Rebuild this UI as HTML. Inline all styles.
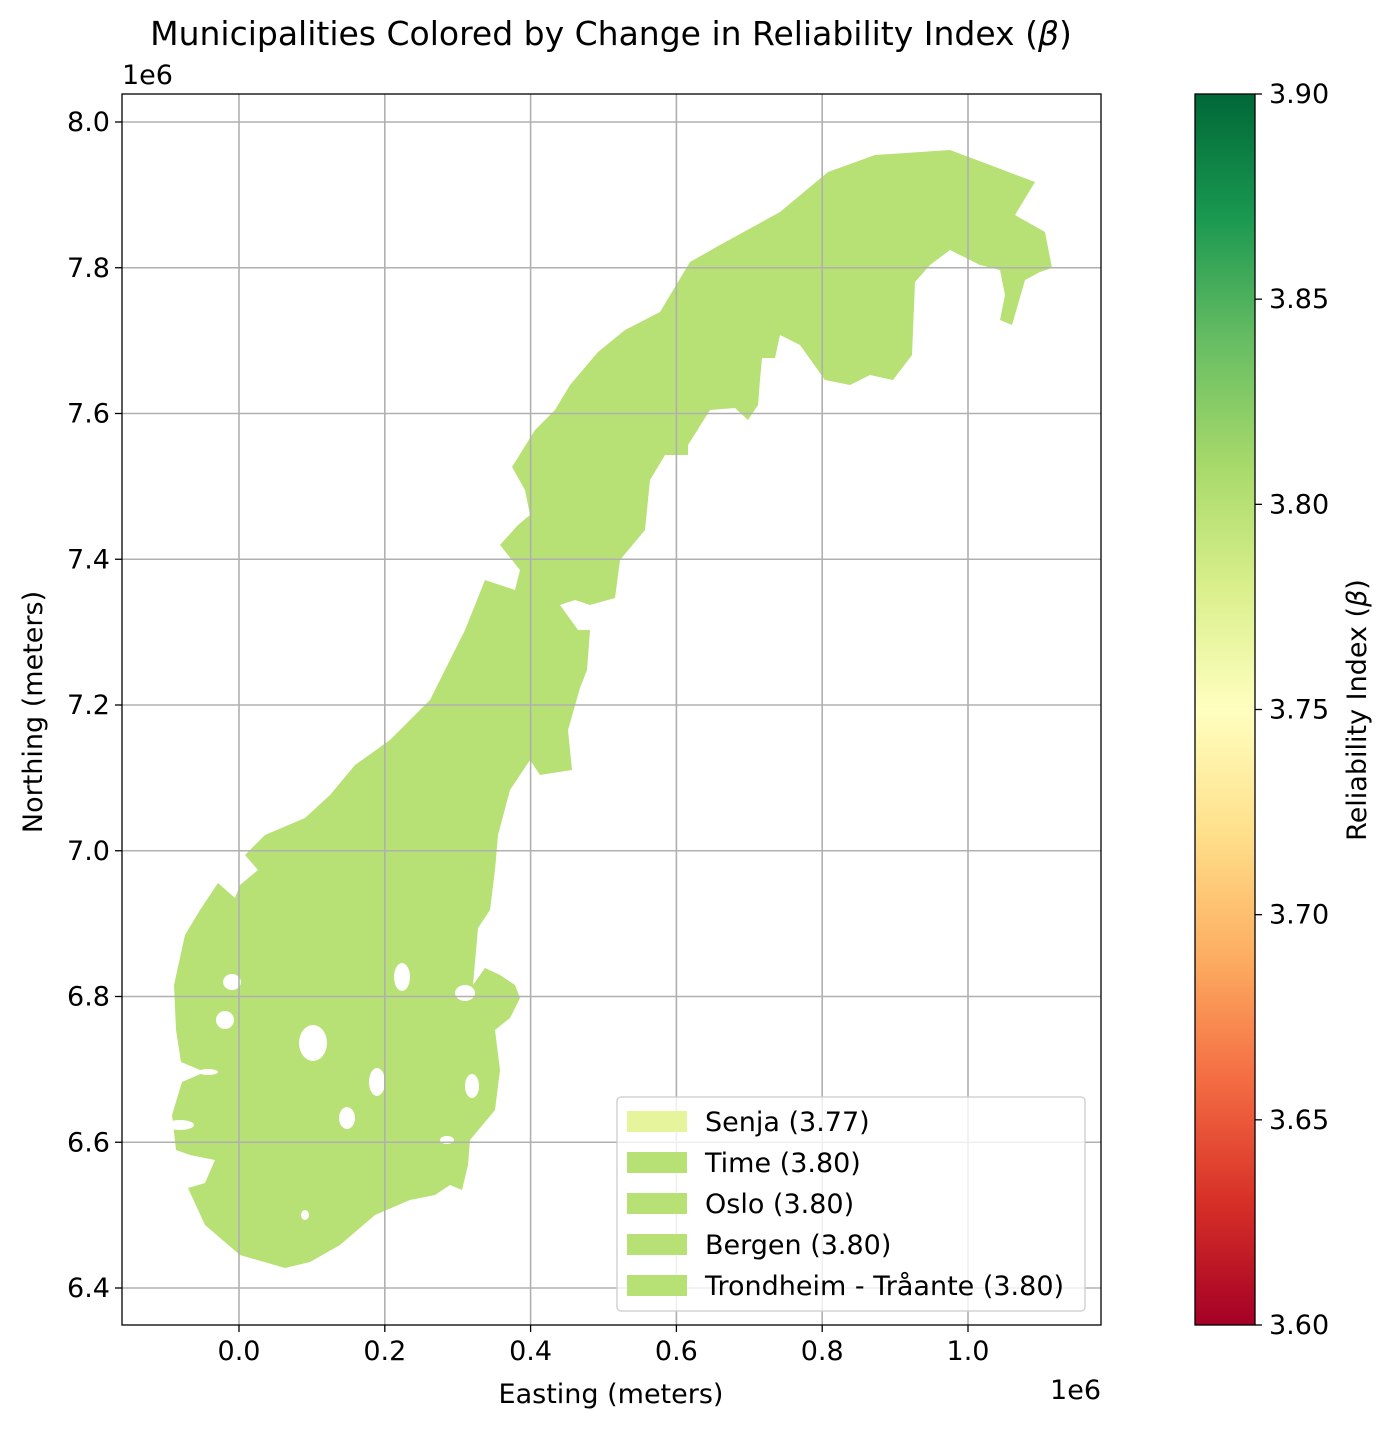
<!DOCTYPE html>
<html><head><meta charset="utf-8">
<style>
body{margin:0;background:#fff;font-family:"Liberation Sans","DejaVu Sans",sans-serif;}
svg text{font-family:"DejaVu Sans","Liberation Sans",sans-serif;fill:#000;}
</style></head>
<body>
<svg id="chart" width="1399" height="1431" viewBox="0 0 1399 1431" xmlns="http://www.w3.org/2000/svg">
<rect width="1399" height="1431" fill="#fff"/>
<text x="611" y="45" style="font-size:33px" text-anchor="middle">Municipalities Colored by Change in Reliability Index (<tspan font-style="italic">β</tspan>)</text>
<g id="map"></g>
<g id="grid"></g>
<rect x="122" y="94" width="979" height="1231" fill="none" stroke="#000" stroke-width="1.3"/>
<g id="xticks"></g>
<g id="yticks"></g>
<text x="611" y="1403" style="font-size:27px" text-anchor="middle">Easting (meters)</text>
<text x="1101" y="1399" style="font-size:27px" text-anchor="end">1e6</text>
<text x="122" y="84" style="font-size:27px">1e6</text>
<text transform="translate(42,712) rotate(-90)" style="font-size:27px" text-anchor="middle">Northing (meters)</text>
<g id="legend"></g>
<defs><linearGradient id="rdylgn" x1="0" y1="1" x2="0" y2="0">
<stop offset="0" stop-color="#a50026"/><stop offset="0.1" stop-color="#d73027"/><stop offset="0.2" stop-color="#f46d43"/><stop offset="0.3" stop-color="#fdae61"/><stop offset="0.4" stop-color="#fee08b"/><stop offset="0.5" stop-color="#ffffbf"/><stop offset="0.6" stop-color="#d9ef8b"/><stop offset="0.7" stop-color="#a6d96a"/><stop offset="0.8" stop-color="#66bd63"/><stop offset="0.9" stop-color="#1a9850"/><stop offset="1" stop-color="#006837"/>
</linearGradient></defs>
<rect x="1195" y="94" width="60" height="1231" fill="url(#rdylgn)" stroke="#000" stroke-width="1.3"/>
<g id="cbticks"></g>
<text transform="translate(1366,710) rotate(-90)" style="font-size:27px" text-anchor="middle">Reliability Index (<tspan font-style="italic">β</tspan>)</text>
</svg>
<script>
const xTicks=[0.0,0.2,0.4,0.6,0.8,1.0];
const xTickLabels=["0.0","0.2","0.4","0.6","0.8","1.0"];
const yTicks=[6.4,6.6,6.8,7.0,7.2,7.4,7.6,7.8,8.0];
const yTickLabels=["6.4","6.6","6.8","7.0","7.2","7.4","7.6","7.8","8.0"];
const cbTicks=[3.60,3.65,3.70,3.75,3.80,3.85,3.90];
const legendNames=["Senja","Time","Oslo","Bergen","Trondheim - Tråante"];
const legendValues=[3.77,3.80,3.80,3.80,3.80];
const mapValue=3.80;

const NS="http://www.w3.org/2000/svg";
const X=v=>239+v*729;
const Y=v=>122+(8.0-v)*728.75;
const CB=v=>1325-(v-3.60)/(0.30)*1231;
function colorOf(v){
  const stops=["#a50026","#d73027","#f46d43","#fdae61","#fee08b","#ffffbf","#d9ef8b","#a6d96a","#66bd63","#1a9850","#006837"];
  let t=(v-3.60)/0.30*10; t=Math.max(0,Math.min(10,t));
  const i=Math.min(9,Math.floor(t)),f=t-i;
  const a=stops[i],b=stops[i+1];
  const c=k=>Math.round(parseInt(a.substr(k,2),16)*(1-f)+parseInt(b.substr(k,2),16)*f);
  return `rgb(${c(1)},${c(3)},${c(5)})`;
}
function mk(tag,attrs,parent){const e=document.createElementNS(NS,tag);for(const k in attrs)e.setAttribute(k,attrs[k]);parent.appendChild(e);return e;}

const outline=[[285,1268],[240,1255],[205,1225],[188,1188],[205,1183],[215,1160],[190,1155],[176,1150],[172,1115],[182,1082],[205,1072],[181,1062],[176,1030],[174,985],[185,935],[200,910],[218,883],[235,898],[240,885],[258,870],[245,855],[265,835],[305,818],[330,795],[355,765],[390,740],[430,700],[465,630],[485,580],[515,590],[520,570],[500,545],[518,525],[530,515],[525,490],[512,467],[535,430],[555,410],[570,385],[598,352],[625,330],[660,312],[690,262],[720,245],[780,212],[828,172],[875,155],[950,150],[990,165],[1035,182],[1015,215],[1045,232],[1052,268],[1040,272],[1025,280],[1012,325],[1000,320],[1005,295],[1000,270],[980,265],[960,255],[950,250],[930,265],[915,282],[912,355],[893,380],[870,375],[850,385],[825,380],[800,345],[780,335],[775,358],[762,358],[760,380],[758,405],[748,420],[735,408],[710,410],[688,445],[688,455],[665,455],[650,480],[645,530],[620,560],[615,598],[590,605],[575,600],[560,605],[578,630],[590,630],[587,670],[580,688],[568,730],[572,770],[540,775],[530,760],[510,790],[498,835],[495,870],[490,910],[478,928],[473,985],[485,968],[500,975],[515,985],[520,998],[510,1018],[495,1030],[500,1070],[495,1110],[470,1140],[468,1165],[462,1190],[450,1185],[435,1195],[410,1200],[375,1215],[340,1245],[310,1262]];
const map=document.getElementById('map');
const poly=mk('polygon',{points:outline.map(p=>p.join(',')).join(' '),fill:colorOf(mapValue)},map);


const holes=[[313,1043,14,18],[347,1118,8,11],[377,1082,8,14],[232,982,9,8],[225,1020,9,9],[402,977,8,14],[465,993,10,8],[305,1215,4,5],[472,1086,7,12],[180,1125,14,5],[208,1072,10,3],[447,1140,7,4]];
holes.forEach(h=>{const e=mk('ellipse',{cx:h[0],cy:h[1],rx:h[2],ry:h[3],fill:'#fff'},map);

});

const grid=document.getElementById('grid'),xg=document.getElementById('xticks'),yg=document.getElementById('yticks');
xTicks.forEach((v,i)=>{
  const l=mk('line',{x1:X(v),x2:X(v),y1:94,y2:1325,stroke:'#b0b0b0','stroke-width':1.6},grid);
  
  
  mk('line',{x1:X(v),x2:X(v),y1:1325,y2:1332,stroke:'#000','stroke-width':1.3},xg);
  const t=mk('text',{x:X(v),y:1360,style:'font-size:27px','text-anchor':'middle'},xg);t.textContent=xTickLabels[i];
  
  
});
yTicks.forEach((v,i)=>{
  const l=mk('line',{x1:122,x2:1101,y1:Y(v),y2:Y(v),stroke:'#b0b0b0','stroke-width':1.6},grid);
  
  
  mk('line',{x1:115,x2:122,y1:Y(v),y2:Y(v),stroke:'#000','stroke-width':1.3},yg);
  const t=mk('text',{x:110,y:Y(v)+9,style:'font-size:27px','text-anchor':'end'},yg);t.textContent=yTickLabels[i];
  
  
});
const cg=document.getElementById('cbticks');
cbTicks.forEach(v=>{
  mk('line',{x1:1255,x2:1262,y1:CB(v),y2:CB(v),stroke:'#000','stroke-width':1.3},cg);
  const t=mk('text',{x:1269,y:CB(v)+9,style:'font-size:27px'},cg);t.textContent=v.toFixed(2);
  
  
});
const lg=document.getElementById('legend');
const box=mk('rect',{x:617,y:1097,width:468,height:214,rx:4,fill:'#fff','fill-opacity':0.8,stroke:'#ccc','stroke-width':1.3},lg);


legendNames.forEach((n,i)=>{
  const y=1121+i*41;
  const r=mk('rect',{x:627,y:y-10,width:60,height:21,fill:colorOf(legendValues[i])},lg);
  
  
  const t=mk('text',{x:705,y:y+10,style:'font-size:27px'},lg);t.textContent=`${n} (${legendValues[i].toFixed(2)})`;
  
  
});
</script>
</body></html>
